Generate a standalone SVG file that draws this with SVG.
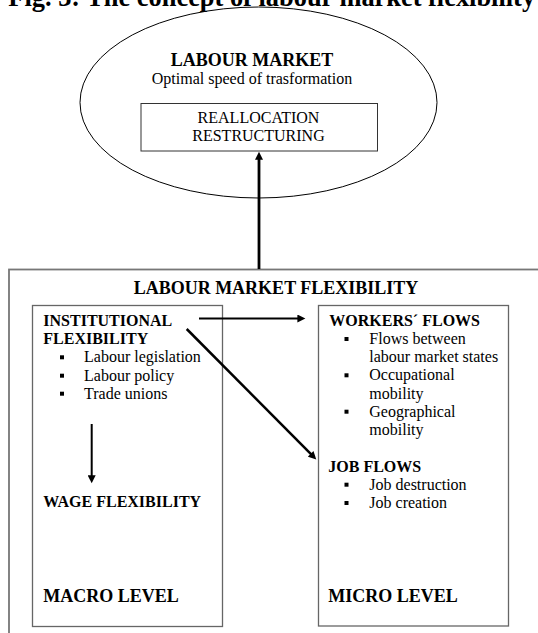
<svg xmlns="http://www.w3.org/2000/svg" width="538" height="633" viewBox="0 0 538 633">
  <style>
    text { font-family: "Liberation Serif", "Times New Roman", serif; fill: #000; }
    .b { font-weight: bold; }
    .h { font-weight: bold; font-size: 18px; }
    .t { font-size: 16px; }
    .bt { font-weight: bold; font-size: 16px; }
    .c { text-anchor: middle; }
    .box { fill: none; stroke: #666; stroke-width: 1.3; }
    .bul { fill: #000; }
    .conn { stroke: #000; fill: none; }
  </style>
  <defs>
    <marker id="ah" viewBox="0 0 10 10" refX="3.3" refY="5" markerUnits="userSpaceOnUse" markerWidth="9" markerHeight="8" orient="auto">
      <path d="M0,0 L10,5 L0,10 z" fill="#000"/>
    </marker>
  </defs>

  <text id="title" class="b" x="8.3" y="6" font-size="26.4">Fig. 3: The concept of labour market flexibility</text>

  <g id="labour-market">
    <ellipse cx="258.5" cy="102.5" rx="178.5" ry="95.5" fill="none" stroke="#000" stroke-width="1"/>
    <text class="h c" x="252" y="66">LABOUR MARKET</text>
    <text class="t c" x="252" y="84.3">Optimal speed of trasformation</text>
  </g>

  <g id="reallocation">
    <rect x="141" y="103.5" width="236.5" height="47.5" fill="#fff" stroke="#333" stroke-width="1"/>
    <text class="t c" x="258.5" y="122.7">REALLOCATION</text>
    <text class="t c" x="258.5" y="141">RESTRUCTURING</text>
  </g>

  <g id="labour-market-flexibility">
    <rect x="9" y="269.5" width="560" height="400" fill="none" stroke="#777" stroke-width="1.8"/>
    <text class="h c" x="276" y="294.3">LABOUR MARKET FLEXIBILITY</text>
  </g>

  <g id="macro-level">
    <rect class="box" x="32.5" y="305.5" width="190" height="321"/>
    <text class="bt" x="43.3" y="326">INSTITUTIONAL</text>
    <text class="bt" x="43.3" y="344">FLEXIBILITY</text>
    <rect class="bul" x="60" y="355.3" width="4" height="4"/>
    <text class="t" x="84" y="362.3">Labour legislation</text>
    <rect class="bul" x="60" y="373.7" width="4" height="4"/>
    <text class="t" x="84" y="380.7">Labour policy</text>
    <rect class="bul" x="60" y="391.7" width="4" height="4"/>
    <text class="t" x="84" y="398.7">Trade unions</text>
    <text class="bt" x="43.3" y="507.3">WAGE FLEXIBILITY</text>
    <text class="h" x="43.3" y="601.7">MACRO LEVEL</text>
  </g>

  <g id="micro-level">
    <rect class="box" x="318.5" y="305.5" width="190" height="320.5"/>
    <text class="bt" x="329.3" y="326">WORKERS´ FLOWS</text>
    <rect class="bul" x="344.5" y="337" width="4" height="4"/>
    <text class="t" x="369.3" y="344">Flows between</text>
    <text class="t" x="369.3" y="362.3">labour market states</text>
    <rect class="bul" x="344.5" y="373.3" width="4" height="4"/>
    <text class="t" x="369.3" y="380.3">Occupational</text>
    <text class="t" x="369.3" y="398.5">mobility</text>
    <rect class="bul" x="344.5" y="409.7" width="4" height="4"/>
    <text class="t" x="369.3" y="416.7">Geographical</text>
    <text class="t" x="369.3" y="434.8">mobility</text>
    <text class="bt" x="328.3" y="471.7">JOB FLOWS</text>
    <rect class="bul" x="344.5" y="482.7" width="4" height="4"/>
    <text class="t" x="369.3" y="489.7">Job destruction</text>
    <rect class="bul" x="344.5" y="501" width="4" height="4"/>
    <text class="t" x="369.3" y="508">Job creation</text>
    <text class="h" x="328.3" y="601.7">MICRO LEVEL</text>
  </g>

  <g id="connectors">
    <line class="conn" x1="259" y1="269" x2="259" y2="157" stroke-width="2.8" marker-end="url(#ah)"/>
    <line class="conn" x1="199" y1="318.5" x2="300" y2="318.5" stroke-width="2" marker-end="url(#ah)"/>
    <line class="conn" x1="186.7" y1="329" x2="312.5" y2="455.7" stroke-width="2.5" marker-end="url(#ah)"/>
    <line class="conn" x1="91.7" y1="424" x2="91.7" y2="478" stroke-width="2" marker-end="url(#ah)"/>
  </g>
</svg>
